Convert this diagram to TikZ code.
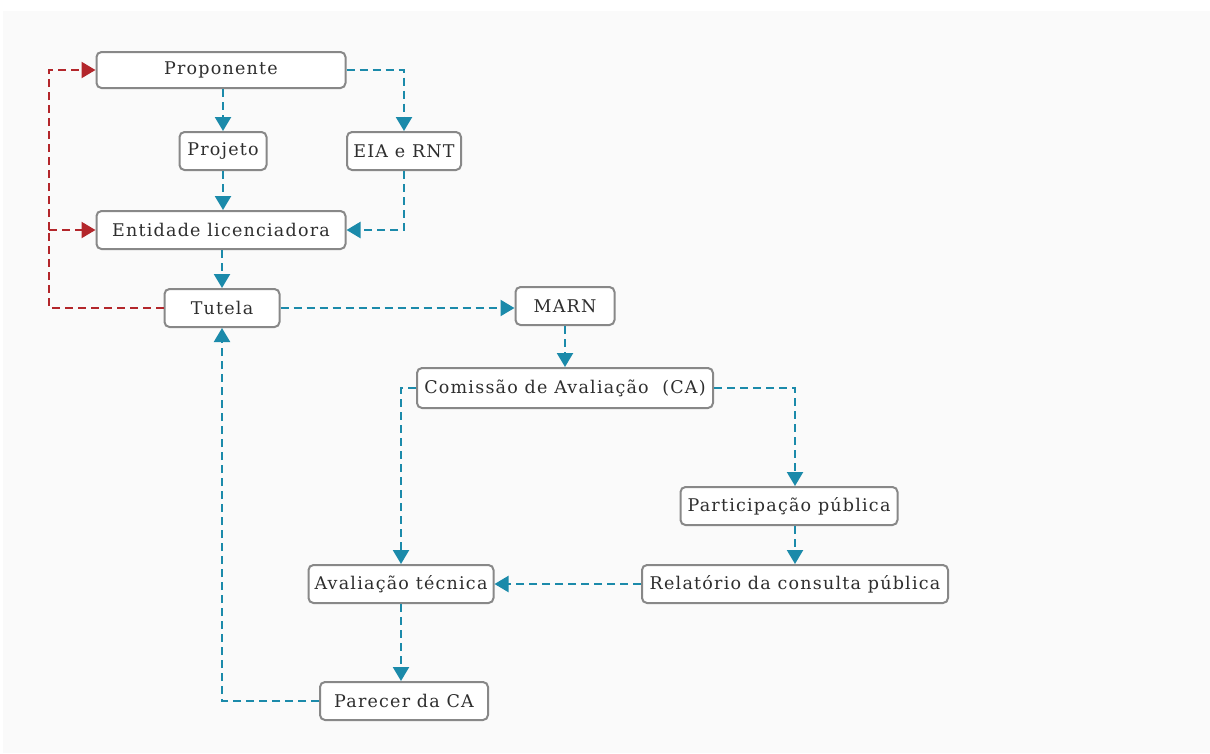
\documentclass[tikz,border=0pt]{standalone}
\usepackage{fontspec}
\setmainfont[LetterSpace=7]{DejaVu Serif}
\usetikzlibrary{arrows.meta}
\definecolor{flowblue}{HTML}{1B8AAA}
\definecolor{flowred}{HTML}{B3262B}
\definecolor{boxgray}{HTML}{888888}
\definecolor{bgpaper}{HTML}{FAFAFA}
\tikzset{
  box/.style={draw=boxgray, line width=2pt, rounded corners=5pt, fill=white,
    inner sep=0pt, font=\fontsize{17.5}{20}\selectfont, text=black!82},
  blueflow/.style={draw=flowblue, line width=2.2pt, dash pattern=on 8pt off 5pt,
    -{Triangle[length=14pt,width=16pt,fill=flowblue]}},
  redflow/.style={draw=flowred, line width=2.2pt, dash pattern=on 8pt off 5pt,
    -{Triangle[length=14pt,width=16pt,fill=flowred]}},
  plainred/.style={draw=flowred, line width=2.2pt, dash pattern=on 8pt off 5pt}
}
\begin{document}
\begin{tikzpicture}[x=1pt,y=-1pt]
\useasboundingbox (0,0) rectangle (1210,753);
\fill[bgpaper] (3,11) rectangle (1210,753);

\node[box, minimum width=249pt, minimum height=36pt] (prop) at (221,70) {Proponente};
\node[box, minimum width=87pt, minimum height=38pt] (proj) at (223,151) {Projeto};
\node[box, minimum width=114pt, minimum height=38pt] (eia) at (404,151) {EIA e RNT};
\node[box, minimum width=249pt, minimum height=38pt] (ent) at (221,230) {Entidade licenciadora};
\node[box, minimum width=115pt, minimum height=38pt] (tut) at (222,308) {Tutela};
\node[box, minimum width=99pt, minimum height=38pt] (marn) at (565,306) {MARN};
\node[box, minimum width=296pt, minimum height=40pt] (com) at (565,388) {Comissão de Avaliação~ (CA)};
\node[box, minimum width=217pt, minimum height=38pt] (part) at (789,506) {Participação pública};
\node[box, minimum width=306pt, minimum height=38pt] (rel) at (795,584) {Relatório da consulta pública};
\node[box, minimum width=185pt, minimum height=38pt] (aval) at (401,584) {Avaliação técnica};
\node[box, minimum width=168pt, minimum height=38pt] (par) at (404,701) {Parecer da CA};

\coordinate (redx) at (49,308);
\coordinate (redmid) at (49,230);

% blue connectors
\draw[blueflow] (prop.south -| proj.north) -- (proj.north);
\draw[blueflow] (prop.east) -| (eia.north);
\draw[blueflow] (proj.south) -- (proj.south |- ent.north);
\draw[blueflow] (eia.south) |- (ent.east);
\draw[blueflow] (ent.south -| tut.north) -- (tut.north);
\draw[blueflow] (tut.east) -- (tut.east -| marn.west);
\draw[blueflow] (marn.south) -- (marn.south |- com.north);
\draw[blueflow] (com.west) -| (aval.north);
\draw[blueflow] (com.east) -| (part.north -| rel.north);
\draw[blueflow] (part.south -| rel.north) -- (rel.north);
\draw[blueflow] (rel.west) -- (aval.east);
\draw[blueflow] (aval.south) -- (aval.south |- par.north);
\draw[blueflow] (par.west) -| (tut.south);

% red connectors
\draw[plainred] (tut.west) -- (redx) -- (redmid);
\draw[redflow] (redmid) |- (prop.west);
\draw[redflow] (redmid) -- (ent.west);
\end{tikzpicture}
\end{document}
